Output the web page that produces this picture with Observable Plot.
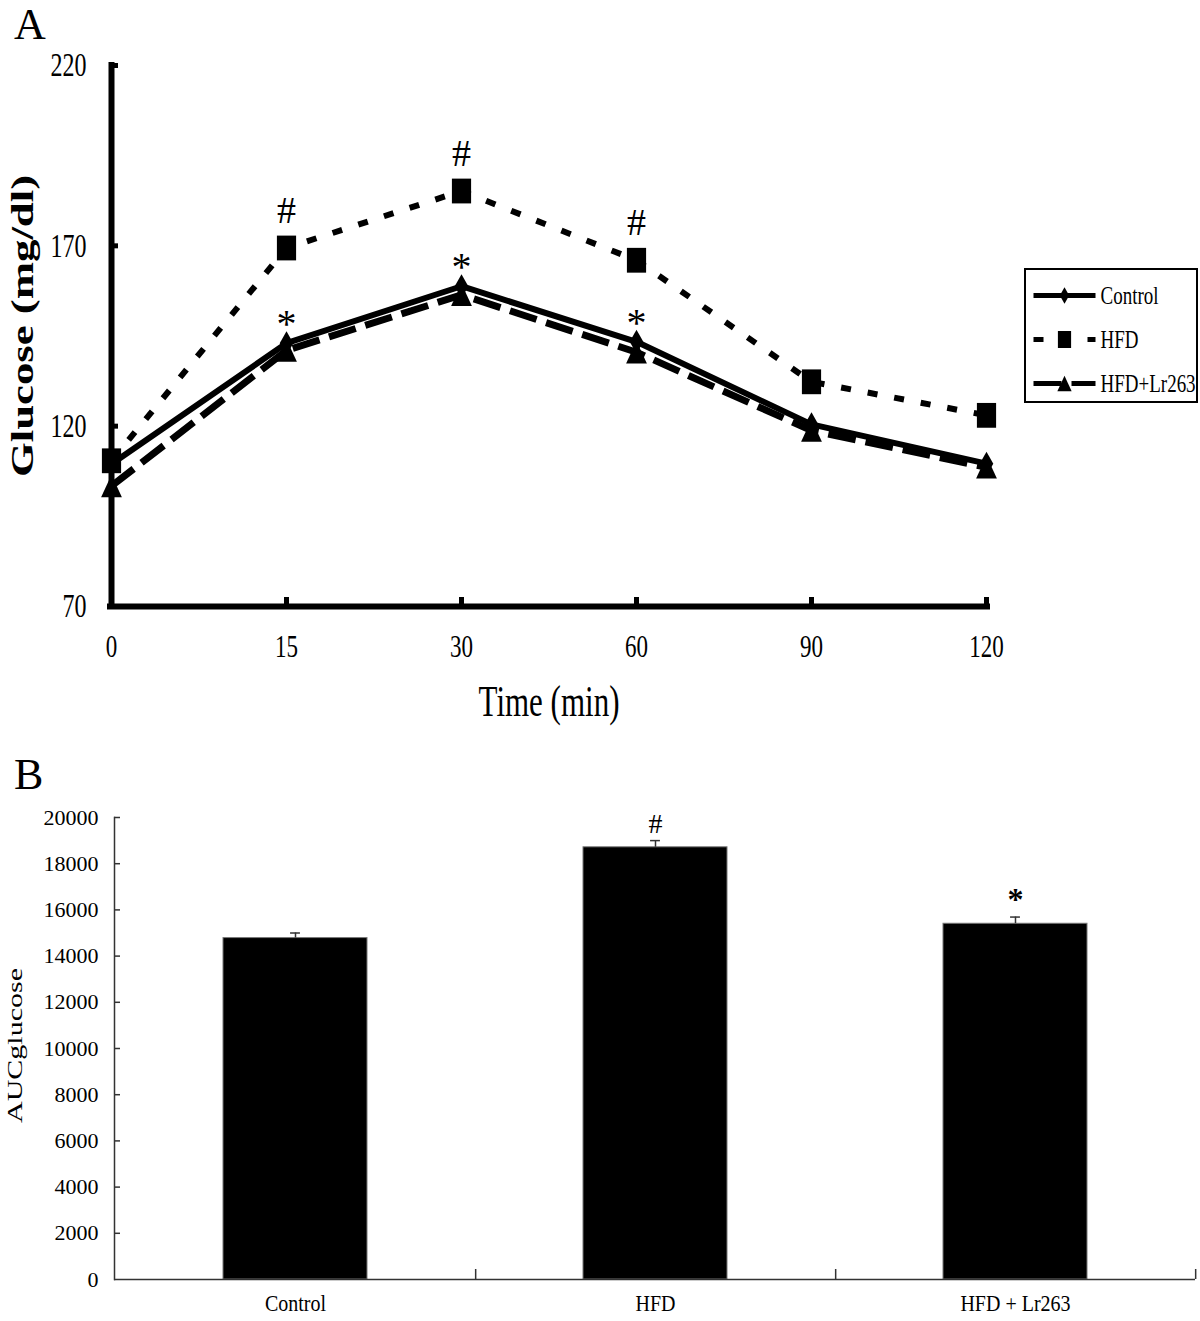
<!DOCTYPE html>
<html><head><meta charset="utf-8">
<script src="https://cdn.jsdelivr.net/npm/d3@7"></script>
<script src="https://cdn.jsdelivr.net/npm/@observablehq/plot@0.6"></script>
<style>
body{margin:0;background:#fff;}
#wrap{position:relative;width:1200px;height:1321px;background:#fff;overflow:hidden;font-family:"Liberation Serif","Times New Roman",serif;}
.panel{position:absolute;left:0;}
.tag{position:absolute;font-size:44px;line-height:1;color:#000;}
#legend{position:absolute;left:1024px;top:268px;}
#legend svg{border:2px solid #000;display:block;}
</style></head><body>
<div id="wrap">
  <div id="chartA" class="panel" style="top:0"></div>
  <div id="legend"></div>
  <div id="chartB" class="panel" style="top:760px"></div>
  <div class="tag" style="left:14px;top:3px">A</div>
  <div class="tag" style="left:14px;top:753px">B</div>
</div>
<script>
// ---------- Panel A data ----------
const times = ["0", "15", "30", "60", "90", "120"];
const seriesNames = ["Control", "HFD", "HFD+Lr263"];
const control = [109.5, 143.0, 158.8, 143.4, 120.5, 109.6];
const hfd = [110.4, 169.4, 185.2, 166.0, 132.3, 123.0];
const lr263 = [103.4, 141.0, 156.4, 140.5, 118.8, 108.6];
const hashTimes = ["15", "30", "60"];   // "#" above HFD
const starTimes = ["15", "30", "60"];   // "*" above Control / HFD+Lr263
const yTicksA = [70, 120, 170, 220];
const xTitleA = "Time (min)";
const yTitleA = "Glucose (mg/dl)";

// ---------- Panel B data ----------
const groups = ["Control", "HFD", "HFD + Lr263"];
const auc = [14780, 18710, 15400];
const aucSem = [220, 290, 290];
const aucMarks = ["", "#", "*"];
const yTicksB = [0, 2000, 4000, 6000, 8000, 10000, 12000, 14000, 16000, 18000, 20000];
const yTitleB = "AUCglucose";

// ---------- tables ----------
const seriesValues = [control, hfd, lr263];
const rows = seriesNames.flatMap((s, si) => seriesValues[si].map((v, i) => ({series: s, time: times[i], glucose: v})));
const bySeries = s => rows.filter(d => d.series === s);
const barRows = groups.map((g, i) => ({group: g, auc: auc[i], sem: aucSem[i], mark: aucMarks[i]}));

// ---------- custom marker shapes (Excel-like, tall) ----------
const rr = size => Math.sqrt(size / Math.PI);
const rectSym = {draw(c, size) { const r = rr(size), w = r * 1.2, h = r * 1.55;
  c.moveTo(-w, -h); c.lineTo(w, -h); c.lineTo(w, h); c.lineTo(-w, h); c.closePath(); }};
const triSym = {draw(c, size) { const r = rr(size), w = r * 1.3, h = r * 1.4;
  c.moveTo(0, -h); c.lineTo(w, h); c.lineTo(-w, h); c.closePath(); }};
const diaSym = {draw(c, size) { const r = rr(size), w = r * 0.85, h = r * 1.5;
  c.moveTo(0, -h); c.lineTo(w, 0); c.lineTo(0, h); c.lineTo(-w, 0); c.closePath(); }};
const lineStyle = {
  "Control": {dash: null, w: 6, sym: diaSym},
  "HFD": {dash: "10,17", w: 6, sym: rectSym},
  "HFD+Lr263": {dash: "28,10", w: 7, sym: triSym}
};

function stretch(svg, k, test) {
  d3.select(svg).selectAll("text").each(function () {
    const s = this.textContent;
    if (test && !test(s)) return;
    const t = this.getAttribute("transform");
    if (t) {
      const rot = /rotate/.test(t);
      this.setAttribute("transform", t + (rot ? ` scale(${k},1)` : ` scale(1,${k})`));
    } else {
      const x = +this.getAttribute("x") || 0, y = +this.getAttribute("y") || 0;
      this.setAttribute("transform", `translate(${x},${y}) scale(1,${k}) translate(${-x},${-y})`);
    }
  });
}

// ---------- Panel A ----------
const WA = 1200, HA = 740, mL = 110, mR = 213, mT = 65, mB = 134;
const fwA = WA - mL - mR, fhA = HA - mT - mB;
const seriesLine = s => Plot.line(bySeries(s), {x: "time", y: "glucose", stroke: "black",
  strokeWidth: lineStyle[s].w, strokeDasharray: lineStyle[s].dash, strokeLinecap: "butt", strokeLinejoin: "miter"});
const seriesDot = (s, r) => Plot.dot(bySeries(s), {x: "time", y: "glucose", symbol: lineStyle[s].sym, r, fill: "black", stroke: "none"});

const chartA = Plot.plot({
  width: WA, height: HA, marginLeft: mL, marginRight: mR, marginTop: mT, marginBottom: mB,
  style: {fontFamily: "Liberation Serif, Times New Roman, serif", background: "white", color: "black"},
  x: {type: "point", domain: times, padding: 0},
  y: {domain: [70, 220]},
  marks: [
    Plot.axisY({ticks: yTicksA, tickSize: 0, tickPadding: 24, fontSize: 24, label: null}),
    Plot.axisX({tickSize: 0, tickPadding: 28, fontSize: 23, label: null}),
    Plot.ruleX([times[0]], {strokeWidth: 6, insetTop: -3, insetBottom: -3}),
    Plot.ruleY([70], {strokeWidth: 6, insetLeft: -3, insetRight: -3}),
    Plot.ruleY(yTicksA.slice(1), {strokeWidth: 5, insetRight: fwA - 8}),
    Plot.ruleX(times.slice(1), {strokeWidth: 5, insetTop: fhA - 9}),
    seriesLine("HFD+Lr263"),
    seriesLine("Control"),
    seriesLine("HFD"),
    seriesDot("Control", 8),
    seriesDot("HFD+Lr263", 8),
    seriesDot("HFD", 8),
    Plot.text(bySeries("HFD").filter(d => hashTimes.includes(d.time)), {x: "time", y: "glucose", text: () => "#", dy: -37, fontSize: 38, lineAnchor: "middle"}),
    Plot.text(bySeries("Control").filter(d => starTimes.includes(d.time)), {x: "time", y: "glucose", text: () => "*", dy: -19, fontSize: 40, lineAnchor: "middle"}),
    Plot.text([xTitleA], {text: d => d, frameAnchor: "bottom", textAnchor: "middle", dy: 96, fontSize: 31, lineAnchor: "middle"}),
    Plot.text([yTitleA], {text: d => d, frameAnchor: "left", textAnchor: "middle", rotate: -90, dx: -88, dy: -10, fontSize: 32, fontWeight: "bold", lineAnchor: "middle"})
  ]
});
stretch(chartA, 1.4, s => s !== "#" && s !== "*");
document.getElementById("chartA").appendChild(chartA);

// ---------- Legend (panel A) ----------
const legRows = seriesNames.flatMap(s => [0, 1].map(x => ({series: s, x})));
const legSeries = s => legRows.filter(d => d.series === s);
const legend = Plot.plot({
  width: 170, height: 131, marginLeft: 7, marginRight: 101, marginTop: 24, marginBottom: 18,
  style: {fontFamily: "Liberation Serif, Times New Roman, serif", background: "white", color: "black"},
  x: {domain: [0, 1], axis: null},
  y: {type: "point", domain: seriesNames, padding: 0, axis: null},
  marks: [
    ...seriesNames.map(s => Plot.line(legSeries(s), {x: "x", y: "series", stroke: "black",
      strokeWidth: 5, strokeDasharray: lineStyle[s].dash, strokeLinecap: "butt"})),
    ...seriesNames.map(s => Plot.dot([s], {x: () => 0.5, y: d => d, symbol: lineStyle[s].sym, r: 5.5, fill: "black", stroke: "none"})),
    Plot.text(seriesNames, {x: () => 1, y: d => d, text: d => d, dx: 5, textAnchor: "start", fontSize: 19, lineAnchor: "middle"})
  ]
});
stretch(legend, 1.35);
document.getElementById("legend").appendChild(legend);

// ---------- Panel B ----------
const WB = 1200, HB = 561, mLB = 114, mRB = 5, mTB = 57, mBB = 42;
const fwB = WB - mLB - mRB, fhB = HB - mTB - mBB;
const pIn = 0.6, pOut = 0.3;
const stepB = fwB / (groups.length - pIn + 2 * pOut);
const bwB = stepB * (1 - pIn);
const axisGray = "#333";
const chartB = Plot.plot({
  width: WB, height: HB, marginLeft: mLB, marginRight: mRB, marginTop: mTB, marginBottom: mBB,
  style: {fontFamily: "Liberation Serif, Times New Roman, serif", background: "white", color: "black"},
  x: {type: "band", domain: groups, paddingInner: pIn, paddingOuter: pOut},
  y: {domain: [0, 20000]},
  marks: [
    Plot.axisY({ticks: yTicksB, tickFormat: d => String(d), tickSize: 0, tickPadding: 16, fontSize: 22, label: null}),
    Plot.axisX({tickSize: 0, tickPadding: 15, fontSize: 20, label: null}),
    Plot.barY(barRows, {x: "group", y: "auc", fill: "black", stroke: "#777", strokeWidth: 1}),
    Plot.ruleX(barRows, {x: "group", y1: "auc", y2: d => d.auc + d.sem, stroke: axisGray, strokeWidth: 1.5}),
    Plot.tickY(barRows, {x: "group", y: d => d.auc + d.sem, stroke: axisGray, strokeWidth: 1.5, inset: (bwB - 10) / 2}),
    Plot.ruleY([0], {stroke: axisGray, strokeWidth: 1.5}),
    Plot.frame({anchor: "left", stroke: axisGray, strokeWidth: 1.5}),
    Plot.ruleY(yTicksB.slice(1), {stroke: axisGray, strokeWidth: 1.5, insetRight: fwB - 6}),
    Plot.ruleX(groups, {dx: stepB / 2, stroke: axisGray, strokeWidth: 1.5, insetTop: fhB - 10}),
    Plot.text(barRows.filter(d => d.mark === "#"), {x: "group", y: d => d.auc + d.sem, text: "mark", dy: -17, fontSize: 28, lineAnchor: "middle"}),
    Plot.text(barRows.filter(d => d.mark === "*"), {x: "group", y: d => d.auc + d.sem, text: "mark", dy: -17, fontSize: 32, fontWeight: "bold", lineAnchor: "middle"}),
    Plot.text([yTitleB], {text: d => d, frameAnchor: "left", textAnchor: "middle", rotate: -90, dx: -99, dy: -3, fontSize: 20, lineAnchor: "middle"})
  ]
});
stretch(chartB, 1.5, s => s === yTitleB);
stretch(chartB, 1.15, s => groups.includes(s));
document.getElementById("chartB").appendChild(chartB);
</script>
</body></html>
